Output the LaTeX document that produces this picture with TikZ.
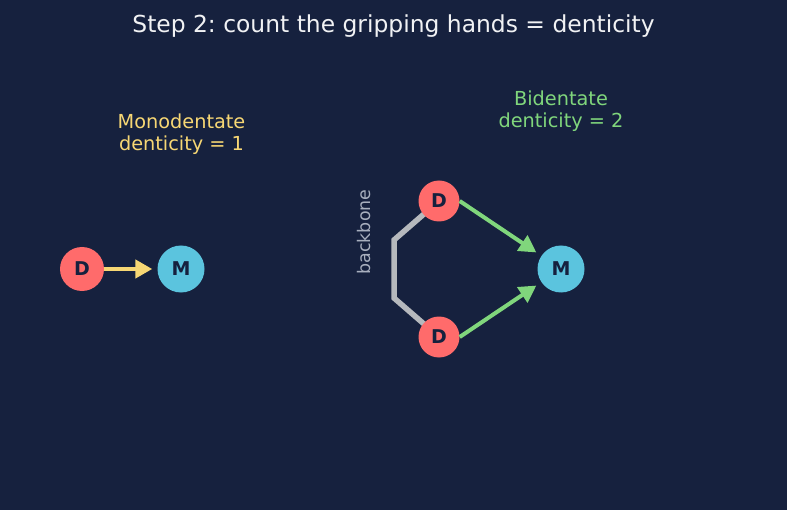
\documentclass[tikz,border=0pt]{standalone}
\usepackage{fontspec}
\setmainfont{DejaVu Sans}
\frenchspacing
\usetikzlibrary{arrows.meta}
\definecolor{bgNavy}{HTML}{16213E}
\definecolor{donorRed}{HTML}{FF6B6B}
\definecolor{metalCyan}{HTML}{5BC4DE}
\definecolor{monoYellow}{HTML}{F7D774}
\definecolor{biGreen}{HTML}{80D67C}
\definecolor{boneGray}{HTML}{B6B9BD}
\definecolor{noteGray}{HTML}{A8AFBE}
\tikzstyle{cDonor} = [circle, minimum size=43bp, inner sep=0pt, fill=donorRed, text=bgNavy, font=\fontsize{19bp}{22bp}\selectfont\bfseries]
\tikzstyle{cMetal} = [circle, minimum size=47bp, inner sep=0pt, fill=metalCyan, text=bgNavy, font=\fontsize{19bp}{22bp}\selectfont\bfseries]
\tikzstyle{cLabel} = [align=center, font=\fontsize{19.3bp}{22bp}\selectfont]
\tikzstyle{cMonoArrow} = [line width=4.5bp, draw=monoYellow, -{Triangle[length=17bp,width=18bp]}, shorten >=5bp]
\tikzstyle{cBiArrow} = [line width=4bp, draw=biGreen, -{Triangle[length=17bp,width=18bp]}, shorten >=6bp]
\tikzstyle{cBackbone} = [line width=5.5bp, draw=boneGray, line join=miter]

\begin{document}
\begin{tikzpicture}[x=1bp, y=-1bp]
    \fill [bgNavy] (0,0) rectangle (787,510);
    \useasboundingbox (0,0) rectangle (787,510);

    \node (title) [font=\fontsize{23.4bp}{26bp}\selectfont, text=white!94!bgNavy] at (393.5,26) {Step 2: count the gripping hands = denticity};

    % monodentate side
    \node (monoLabel) [cLabel, text=monoYellow] at (181.5,134) {Monodentate\\denticity = 1};
    \node (dMono) [cDonor, minimum size=44bp] at (82,269) {D};
    \node (mMono) [cMetal, right of=dMono, node distance=99bp] {M};
    \draw [cMonoArrow] (dMono) -- (mMono);

    % bidentate side
    \node (biLabel) [cLabel, text=biGreen] at (561,111) {Bidentate\\denticity = 2};
    \coordinate (cTop) at (439,201);
    \coordinate (cBot) at (439,337);
    \draw [cBackbone] (cTop) -- (394,240) -- (394,298) -- (cBot);
    \node (dTop) [cDonor, minimum size=41bp] at (cTop) {D};
    \node (dBot) [cDonor, minimum size=41bp] at (cBot) {D};
    \node (mBi) [cMetal] at (561,269) {M};
    \node (boneLabel) [rotate=90, text=noteGray, font=\fontsize{17.4bp}{20bp}\selectfont] at (364,232) {backbone};
    \draw [cBiArrow] (dTop.east) -- (mBi);
    \draw [cBiArrow] (dBot.east) -- (mBi);
\end{tikzpicture}
\end{document}
